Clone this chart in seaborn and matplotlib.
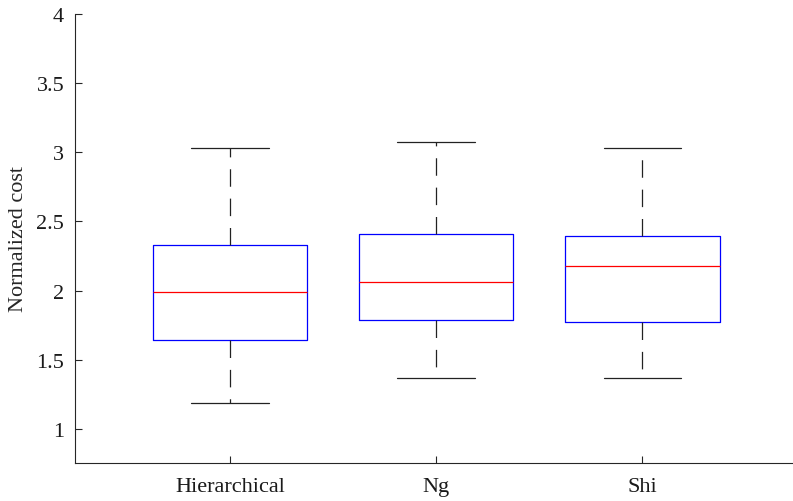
import numpy as np
import pandas as pd
import matplotlib
matplotlib.use("Agg")
import matplotlib.pyplot as plt
import seaborn as sns

# Summary statistics of the normalized cost for each method
methods = ["Hierarchical", "Ng", "Shi"]
whisker_low = [1.188, 1.369, 1.369]
q1 = [1.644, 1.787, 1.774]
median = [1.991, 2.061, 2.179]
q3 = [2.329, 2.407, 2.394]
whisker_high = [3.029, 3.072, 3.033]

yticks = [1, 1.5, 2, 2.5, 3, 3.5, 4]
ytick_labels = ["1", "1.5", "2", "2.5", "3", "3.5", "4"]

# Five values per method reproduce the quartiles and whisker ends exactly
rows = []
for i, m in enumerate(methods):
    for v in (whisker_low[i], q1[i], median[i], q3[i], whisker_high[i]):
        rows.append({"method": m, "cost": v})
df = pd.DataFrame(rows)

sns.set_style("ticks")
plt.rcParams["font.family"] = ["Liberation Serif", "DejaVu Serif"]
plt.rcParams["mathtext.fontset"] = "stix"

fig = plt.figure(figsize=(7.93, 5.02), dpi=100)
ax = fig.add_axes([75.3 / 793, 38.3 / 502, (797 - 75.3) / 793, (463.7 - 15.1) / 502])

sns.boxplot(
    data=df, x="method", y="cost", order=methods, ax=ax,
    whis=np.inf, width=0.75, fill=False, color="blue",
    boxprops=dict(color="blue", linewidth=0.9),
    medianprops=dict(color="red", linewidth=0.9),
    whiskerprops=dict(color="#222222", linewidth=0.9, linestyle=(0, (14, 9.5))),
    capprops=dict(color="#222222", linewidth=0.9),
    showfliers=False,
)

ax.set_xlim(-0.75, 2.75)
ax.set_ylim(0.754, 4)
ax.set_yticks(yticks)
ax.set_yticklabels(ytick_labels)
ax.set_xlabel("")
ax.set_ylabel("Normalized cost", fontsize=16, labelpad=6)

spine_color = "#262626"
for side in ("top", "right"):
    ax.spines[side].set_visible(False)
for side in ("left", "bottom"):
    ax.spines[side].set_color(spine_color)
    ax.spines[side].set_linewidth(0.8)

ax.tick_params(axis="both", direction="in", length=5, width=0.8,
               color=spine_color, labelsize=16, labelcolor="#1a1a1a")
ax.tick_params(axis="y", pad=8)
ax.tick_params(axis="x", pad=10)

fig.savefig("out.png", dpi=100)
